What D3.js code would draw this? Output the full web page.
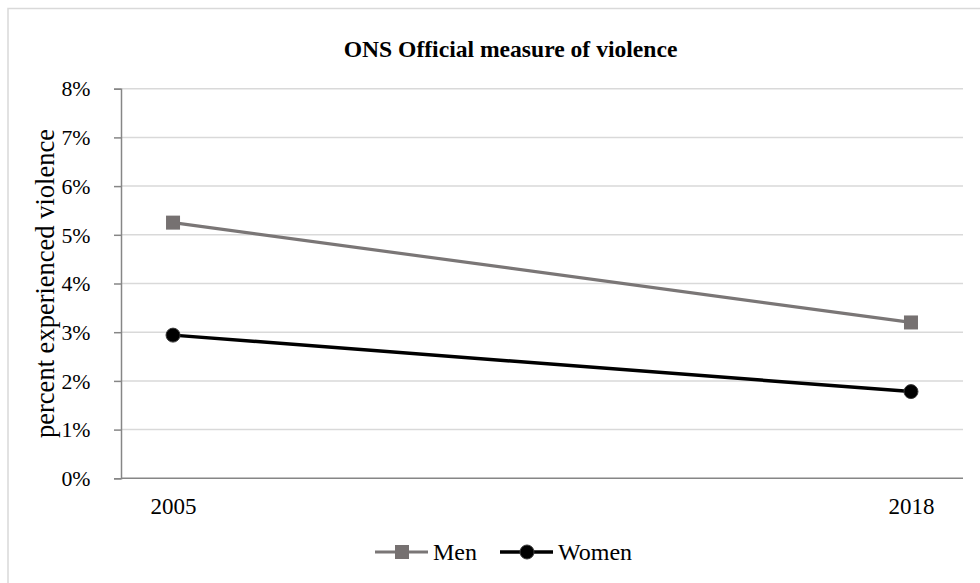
<!DOCTYPE html>
<html><head><meta charset="utf-8">
<script src="https://cdn.jsdelivr.net/npm/d3@7"></script>
<style>body{margin:0;background:#fff}svg text{font-family:"Liberation Serif","Times New Roman",serif !important}</style>
</head><body>
<svg id="c" width="980" height="583" font-family="Liberation Serif, Times New Roman, serif"></svg>
<script>
const years = ["2005", "2018"];
const men = [5.25, 3.20];
const women = [2.94, 1.78];
const yTicks = [0,1,2,3,4,5,6,7,8];
const title = "ONS Official measure of violence";
const yTitle = "percent experienced violence";

const FF = "Liberation Serif, Times New Roman, serif";
const svg = d3.select("#c");
svg.append("rect").attr("x",8).attr("y",8.5).attr("width",1000).attr("height",1000)
  .attr("fill","#fff").attr("stroke","#d9d9d9").attr("stroke-width",1.5);

const L=121, R=963, T=88.7, B=478.3;
const x = d3.scalePoint().domain(years).range([L,R]).padding(0.0705);
const y = d3.scaleLinear().domain([0,8]).range([B,T]);

// gridlines
svg.append("g").selectAll("line").data(yTicks.filter(d=>d>0)).join("line")
  .attr("x1",L).attr("x2",R).attr("y1",d=>y(d)).attr("y2",d=>y(d))
  .attr("stroke","#d9d9d9").attr("stroke-width",1.5);

// y axis
const ya = svg.append("g").attr("transform",`translate(${L},0)`)
  .call(d3.axisLeft(y).tickValues(yTicks).tickFormat(d=>d+"%").tickSize(7).tickPadding(23.5));
ya.attr("font-family",FF);
ya.select(".domain").attr("stroke","#868686").attr("stroke-width",1.5);
ya.selectAll(".tick line").attr("stroke","#868686").attr("stroke-width",1.5);
ya.selectAll("text").attr("font-size",21.8).attr("fill","#000").attr("dy","0.33em");

// x axis
const xa = svg.append("g").attr("transform",`translate(0,${B})`)
  .call(d3.axisBottom(x).tickSize(0).tickPadding(0));
xa.attr("font-family",FF);
xa.select(".domain").attr("d",`M${L},0H${R}`).attr("stroke","#868686").attr("stroke-width",1.5);
xa.selectAll("text").attr("font-size",23).attr("fill","#000").attr("dy",null).attr("y",36);

// lines
const line = d3.line().x((d,i)=>x(years[i])).y(d=>y(d));
svg.append("path").datum(men).attr("d",line).attr("fill","none").attr("stroke","#7a7676").attr("stroke-width",3.2);
svg.append("path").datum(women).attr("d",line).attr("fill","none").attr("stroke","#000").attr("stroke-width",3.5);

svg.append("g").selectAll("rect").data(men).join("rect")
  .attr("x",(d,i)=>x(years[i])-7).attr("y",d=>y(d)-7).attr("width",14).attr("height",14)
  .attr("fill","#767171");
svg.append("g").selectAll("circle").data(women).join("circle")
  .attr("cx",(d,i)=>x(years[i])).attr("cy",d=>y(d)).attr("r",7)
  .attr("fill","#000").attr("stroke","#3a3a3a").attr("stroke-width",1);

// title
svg.append("text").attr("x",510.5).attr("y",57).attr("text-anchor","middle").attr("font-family",FF)
  .attr("font-size",23.6).attr("font-weight","bold").text(title);

// y title
svg.append("text").attr("transform",`translate(53.5,${(T+B)/2}) rotate(-90)`).attr("font-family",FF)
  .attr("text-anchor","middle").attr("font-size",26.5).text(yTitle);

// legend
const lg = svg.append("g").attr("font-family",FF);
const ly = 552;
lg.append("line").attr("x1",375).attr("x2",428).attr("y1",ly).attr("y2",ly).attr("stroke","#7a7676").attr("stroke-width",3.2);
lg.append("rect").attr("x",402-7).attr("y",ly-7).attr("width",14).attr("height",14).attr("fill","#767171");
lg.append("text").attr("x",433).attr("y",ly+8).attr("font-size",24).text("Men");
lg.append("line").attr("x1",500).attr("x2",553).attr("y1",ly).attr("y2",ly).attr("stroke","#000").attr("stroke-width",3.5);
lg.append("circle").attr("cx",527).attr("cy",ly).attr("r",7).attr("fill","#000").attr("stroke","#3a3a3a");
lg.append("text").attr("x",558).attr("y",ly+8).attr("font-size",24).text("Women");
</script>
</body></html>
